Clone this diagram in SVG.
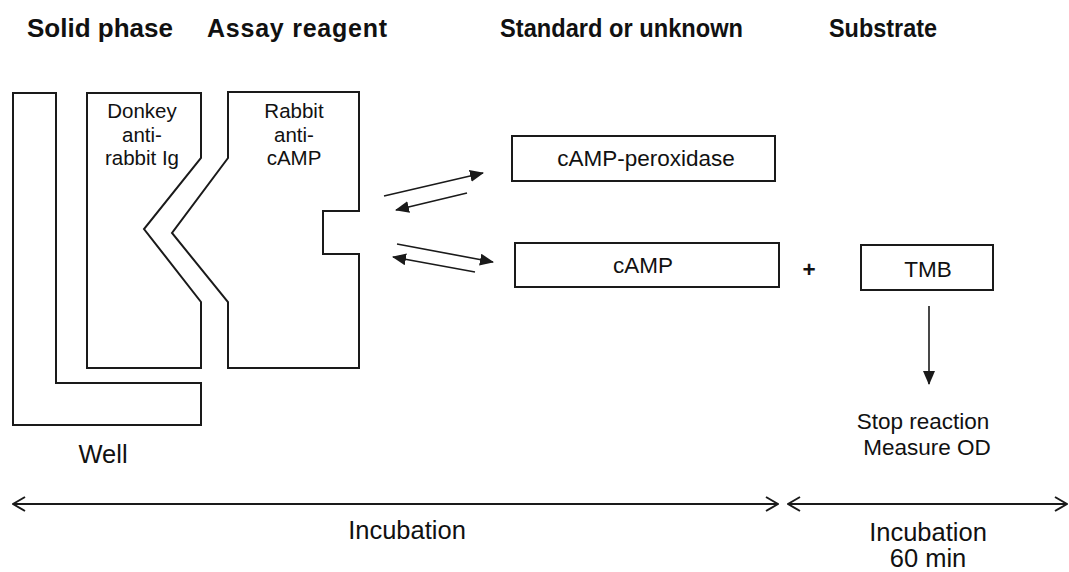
<svg xmlns="http://www.w3.org/2000/svg" width="1069" height="572" viewBox="0 0 1069 572">
<style>
.sh{fill:#fff;stroke:#1a1a1a;stroke-width:2}
.ln{fill:none;stroke:#1a1a1a;stroke-width:1.6}
.bl{fill:none;stroke:#1a1a1a;stroke-width:2}
.h{font-family:"Liberation Sans",Arial,sans-serif;font-weight:bold;font-size:25px;fill:#111}
.t{font-family:"Liberation Sans",Arial,sans-serif;font-size:20.5px;fill:#111;text-anchor:middle}
.tl{font-family:"Liberation Sans",Arial,sans-serif;font-size:22.5px;fill:#111;text-anchor:middle}
.tb{font-family:"Liberation Sans",Arial,sans-serif;font-size:25.5px;fill:#111;text-anchor:middle}
</style>
<defs>
<marker id="tri" markerUnits="userSpaceOnUse" markerWidth="14" markerHeight="12" refX="13" refY="6" orient="auto">
<path d="M0,0 L14,6 L0,12 Z" fill="#1a1a1a"/>
</marker>
<marker id="chev" markerUnits="userSpaceOnUse" markerWidth="14" markerHeight="16" refX="13" refY="8" orient="auto-start-reverse">
<path d="M1,1 L13,8 L1,15" fill="none" stroke="#1a1a1a" stroke-width="2"/>
</marker>
</defs>
<rect width="1069" height="572" fill="#fff"/>
<g id="headers">
<text class="h" x="27" y="37" textLength="146" lengthAdjust="spacingAndGlyphs">Solid phase</text>
<text class="h" x="207" y="37" textLength="180" lengthAdjust="spacing">Assay reagent</text>
<text class="h" x="500" y="37" textLength="243" lengthAdjust="spacingAndGlyphs">Standard or unknown</text>
<text class="h" x="829" y="37" textLength="108" lengthAdjust="spacingAndGlyphs">Substrate</text>
</g>
<g id="well">
<path class="sh" d="M13,93 H56 V383 H201 V425 H13 Z"/>
<text class="tb" x="103" y="463">Well</text>
</g>
<g id="donkey">
<path class="sh" d="M87,93 H201 V158 L144,229 L201,302 V368 H87 Z"/>
<text class="t" x="142" y="118">Donkey</text>
<text class="t" x="142" y="142">anti-</text>
<text class="t" x="142" y="165">rabbit Ig</text>
</g>
<g id="rabbit">
<path class="sh" d="M228,92 H359 V211 H323 V254 H359 V368 H228 V302 L172,233 L228,158 Z"/>
<text class="t" x="294" y="118">Rabbit</text>
<text class="t" x="294" y="142">anti-</text>
<text class="t" x="294" y="165">cAMP</text>
</g>
<g id="camp-peroxidase">
<rect class="sh" x="512" y="136" width="263" height="45"/>
<text class="tl" x="646" y="166">cAMP-peroxidase</text>
</g>
<g id="camp">
<rect class="sh" x="515" y="243" width="264" height="44"/>
<text class="tl" x="643" y="273">cAMP</text>
</g>
<g id="plus">
<text class="tl" x="809" y="277" font-weight="bold" font-size="24px">+</text>
</g>
<g id="tmb">
<rect class="sh" x="861" y="245" width="132" height="45"/>
<text class="tl" x="928" y="277">TMB</text>
</g>
<g id="stop">
<text class="tl" x="923" y="429">Stop reaction</text>
<text class="tl" x="927" y="455">Measure OD</text>
</g>
<g id="connectors">
<line class="ln" x1="384" y1="196" x2="483" y2="173" marker-end="url(#tri)"/>
<line class="ln" x1="467" y1="193" x2="396" y2="210" marker-end="url(#tri)"/>
<line class="ln" x1="397" y1="244" x2="493" y2="262" marker-end="url(#tri)"/>
<line class="ln" x1="475" y1="272" x2="393" y2="257" marker-end="url(#tri)"/>
<line class="ln" x1="929" y1="306" x2="929" y2="384" marker-end="url(#tri)"/>
<line class="bl" x1="13" y1="504" x2="778" y2="504" marker-start="url(#chev)" marker-end="url(#chev)"/>
<line class="bl" x1="788" y1="504" x2="1067" y2="504" marker-start="url(#chev)" marker-end="url(#chev)"/>
</g>
<g id="incubation">
<text class="tb" x="407" y="539">Incubation</text>
<text class="tb" x="928" y="541">Incubation</text>
<text class="tb" x="928" y="567">60 min</text>
</g>
</svg>
